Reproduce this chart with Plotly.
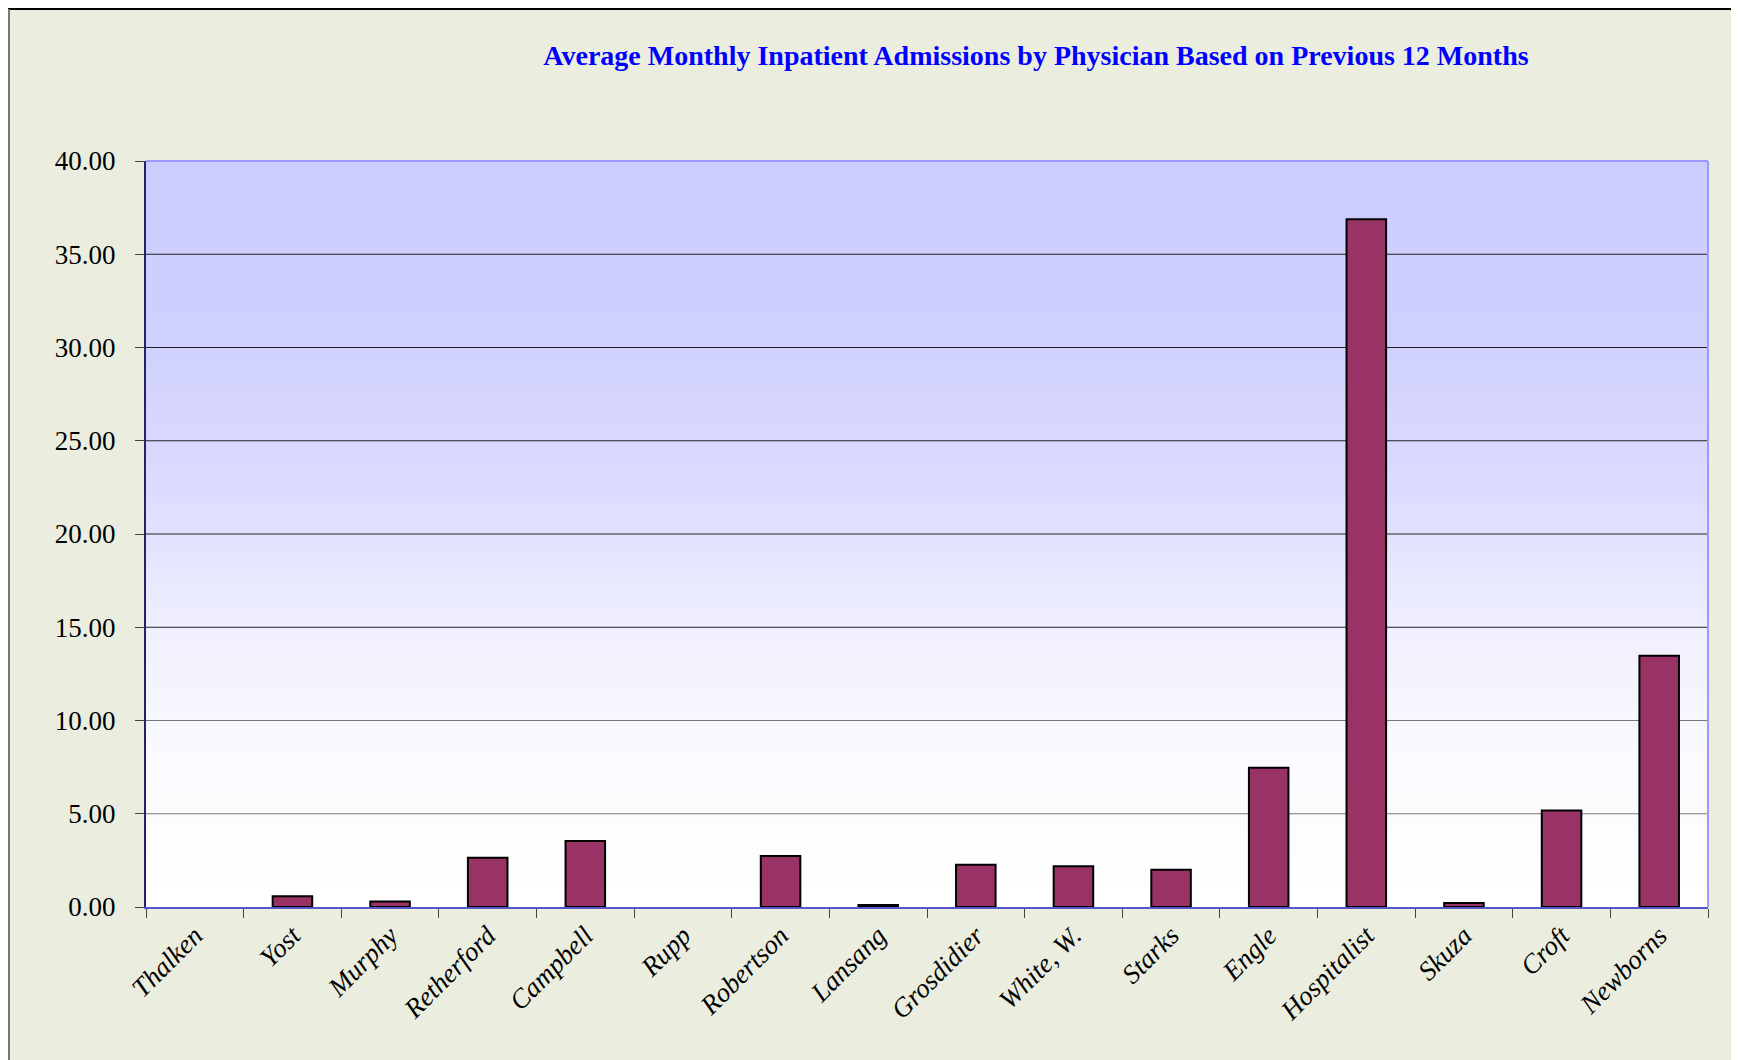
"""Average monthly inpatient admissions by physician."""

import numpy as np
import plotly.graph_objects as go

physicians = [
    'Thalken', 'Yost', 'Murphy', 'Retherford', 'Campbell', 'Rupp',
    'Robertson', 'Lansang', 'Grosdidier', 'White, W.', 'Starks', 'Engle',
    'Hospitalist', 'Skuza', 'Croft', 'Newborns',
]
admissions = [
    0.00, 0.57, 0.29, 2.64, 3.54, 0.00,
    2.73, 0.11, 2.27, 2.18, 2.00, 7.47,
    36.87, 0.21, 5.18, 13.47,
]
y_ticks = [0, 5, 10, 15, 20, 25, 30, 35, 40]

W, H = 1739, 1060
# page body has an 8px margin, so everything sits 8px right/down on screen
L, R, T, B = 138, 39, 153, 161

fig = go.Figure()
fig.add_bar(
    x=physicians,
    y=admissions,
    marker=dict(
        color='#993366',
        line=dict(color='black', width=[2 if v > 0 else 0 for v in admissions]),
    ),
    width=0.405,
)

# plot background: lavender at top fading to white at the bottom
stops_v = [0.0, 0.18, 0.37, 0.56, 0.76, 0.96, 1.0]
stops_d = [0.0, 0.08, 0.30, 0.70, 0.92, 1.0, 1.0]
shapes = []
n = 120
for i in range(n):
    y0 = i / n
    d = np.interp(y0 + 0.5 / n, stops_v, stops_d)
    c = int(round(255 - 51 * d))
    shapes.append(dict(
        type='rect', xref='x domain', yref='y domain',
        x0=0, x1=1, y0=y0, y1=y0 + 1 / n + 0.001,
        fillcolor=f'rgb({c},{c},255)', line=dict(width=0), layer='below',
    ))

# horizontal gridlines (the lower ones are drawn lighter in the original)
for v in y_ticks[1:-1]:
    shapes.append(dict(
        type='line', xref='x domain', yref='y',
        x0=0, x1=1, y0=v, y1=v,
        line=dict(color='#777777' if v <= 10 else '#222222', width=1),
        layer='below',
    ))

# top and right plot border
shapes.append(dict(type='line', xref='x domain', yref='y domain',
                   x0=0, x1=1, y0=1, y1=1,
                   line=dict(color='#9999FF', width=2)))
shapes.append(dict(type='line', xref='x domain', yref='y domain',
                   x0=1, x1=1, y0=0, y1=1,
                   line=dict(color='#9999FF', width=2)))

# outer picture frame (top and left edges)
pw, ph = W - L - R, H - T - B
shapes.append(dict(type='line', xref='paper', yref='paper',
                   x0=(0 - L) / pw, x1=(W - L) / pw,
                   y0=(H - B - 1) / ph, y1=(H - B - 1) / ph,
                   line=dict(color='black', width=2)))
shapes.append(dict(type='line', xref='paper', yref='paper',
                   x0=(1 - L) / pw, x1=(1 - L) / pw,
                   y0=(H - B - 1) / ph, y1=(0 - B) / ph,
                   line=dict(color='#777777', width=2)))

fig.update_layout(
    width=W,
    height=H,
    margin=dict(l=L, r=R, t=T, b=B),
    paper_bgcolor='#EBEEDF',
    plot_bgcolor='rgba(0,0,0,0)',
    showlegend=False,
    shapes=shapes,
    font=dict(family='Liberation Serif, Times New Roman, serif', color='black'),
    title=dict(
        text='<b>Average Monthly Inpatient Admissions by Physician Based on Previous 12 Months</b>',
        font=dict(size=28, color='#0000FF'),
        x=1028 / W, xanchor='center', y=1 - 47 / H, yanchor='middle',
    ),
    bargap=0.6,
)

fig.update_xaxes(
    type='category',
    tickangle=-45,
    tickfont=dict(size=27, style='italic'),
    showline=True, linecolor='#5555CC', linewidth=2,
    ticks='outside', ticklen=9, tickcolor='#444444', tickwidth=1,
    tickson='boundaries',
    showgrid=False,
)
fig.update_yaxes(
    range=[0, 40],
    tickvals=y_ticks,
    tickformat='.2f',
    tickfont=dict(size=27),
    ticklabelstandoff=14,
    showline=True, linecolor='#222266', linewidth=2,
    ticks='outside', ticklen=9, tickcolor='#444444', tickwidth=1,
    showgrid=False,
    zeroline=False,
)

fig.write_html("out.html")
